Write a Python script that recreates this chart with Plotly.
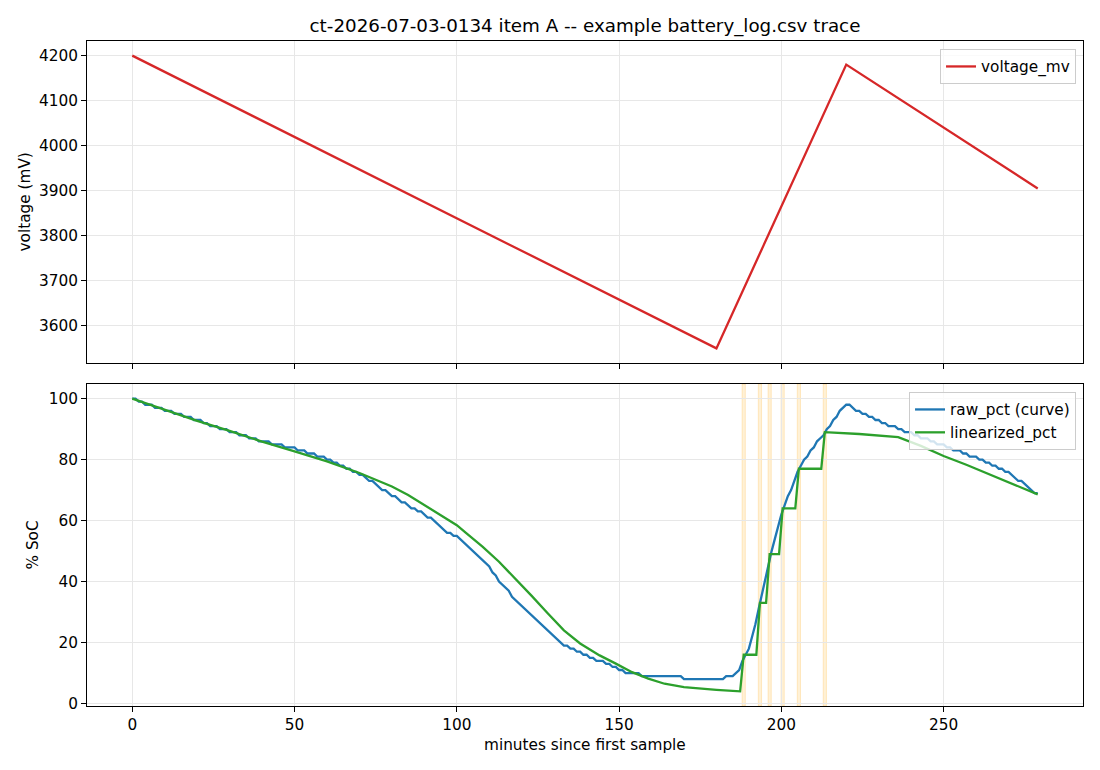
import plotly.graph_objects as go

# ---------------- data ----------------
volt_t = [0, 180, 220, 279]
volt_mv = [4200, 3550, 4180, 3905]

# raw_pct log samples (minute, percent); flat runs given by first and last sample
raw_pct_samples = [
    (0, 100), (1, 100), (2, 99), (3, 99), (4, 98), (6, 98), (7, 97), (9, 97),
    (10, 96), (12, 96), (13, 95), (15, 95), (16, 94), (18, 94), (19, 93), (21, 93),
    (22, 92), (23, 92), (24, 91), (26, 91), (27, 90), (29, 90), (30, 89), (32, 89),
    (33, 88), (35, 88), (36, 87), (38, 87), (39, 86), (42, 86), (43, 85), (46, 85),
    (47, 84), (50, 84), (51, 83), (53, 83), (54, 82), (56, 82), (57, 81), (59, 81),
    (60, 80), (61, 80), (62, 79), (63, 79), (64, 78), (65, 78), (66, 77), (67, 77),
    (68, 76), (69, 76), (70, 75), (71, 75), (72, 74), (73, 73), (74, 73), (75, 72),
    (76, 71), (77, 70), (78, 70), (79, 69), (80, 68), (81, 68), (82, 67), (83, 66),
    (84, 66), (85, 65), (86, 64), (87, 64), (88, 63), (89, 63), (90, 62), (91, 61),
    (92, 61), (93, 60), (94, 59), (95, 58), (96, 57), (97, 56), (98, 56), (99, 55),
    (100, 55), (101, 54), (102, 53), (103, 52), (104, 51), (105, 50), (106, 49),
    (107, 48), (108, 47), (109, 46), (110, 45), (111, 43), (112, 42), (113, 40),
    (114, 39), (115, 38), (116, 37), (117, 35), (118, 34), (119, 33), (120, 32),
    (121, 31), (122, 30), (123, 29), (124, 28), (125, 27), (126, 26), (127, 25),
    (128, 24), (129, 23), (130, 22), (131, 21), (132, 20), (133, 19), (134, 19),
    (135, 18), (136, 18), (137, 17), (138, 17), (139, 16), (140, 16), (141, 15),
    (142, 15), (143, 14), (145, 14), (146, 13), (147, 13), (148, 12), (149, 12),
    (150, 11), (151, 11), (152, 10), (156, 10), (157, 9), (169, 9), (170, 8),
    (182, 8), (183, 9), (185, 9), (186, 10), (187, 11), (188, 14), (189, 16),
    (190, 18), (191, 22), (192, 26), (193, 31), (194, 36), (195, 41), (196, 46),
    (197, 50), (198, 54), (199, 58), (200, 62), (201, 65), (202, 68), (203, 70),
    (204, 73), (205, 76), (206, 78), (207, 80), (208, 81), (209, 83), (210, 84),
    (211, 86), (212, 87), (213, 88), (214, 90), (215, 91), (216, 93), (217, 94),
    (218, 96), (219, 97), (220, 98), (221, 98), (222, 97), (223, 96), (224, 96),
    (225, 95), (226, 95), (227, 94), (228, 94), (229, 93), (230, 93), (231, 92),
    (232, 92), (233, 91), (235, 91), (236, 90), (237, 90), (238, 89), (240, 89),
    (241, 88), (242, 88), (243, 87), (245, 87), (246, 86), (247, 86), (248, 85),
    (250, 85), (251, 84), (252, 84), (253, 83), (255, 83), (256, 82), (257, 82),
    (258, 81), (260, 81), (261, 80), (262, 80), (263, 79), (264, 79), (265, 78),
    (266, 78), (267, 77), (268, 77), (269, 76), (270, 76), (271, 75), (272, 74),
    (273, 73), (274, 73), (275, 72), (276, 71), (277, 70), (278, 69), (279, 69),
]

lin_t = [0, 10, 20, 30, 40, 50, 60, 70, 80, 85,
         90, 95, 100, 103, 108, 113, 118, 123, 128, 133,
         138, 144, 149, 154, 159, 164, 170, 175, 180, 187.3,
         188.4, 192.3, 193.4, 195.3, 196.4, 199.3, 200.4, 204.3, 205.4, 212.3,
         213.4, 224, 236, 243, 250, 257, 264, 271, 279]
lin_v = [100, 96.3, 92.7, 89.4, 85.9, 82.7, 79.4, 75.6, 71.2, 68.4,
         65.1, 62, 58.5, 55.8, 51.4, 46.5, 41, 35.4, 29.6, 24,
         19.7, 15.8, 13.1, 10.3, 8.2, 6.5, 5.4, 4.9, 4.5, 4,
         16, 16, 33, 33, 49, 49, 64, 64, 77, 77,
         89, 88.4, 87.4, 84.5, 81.2, 78.3, 75.2, 72, 68.6]

event_t = [188.4, 193.4, 196.4, 200.4, 205.4, 213.4]

x_ticks = [0, 50, 100, 150, 200, 250]
v_ticks = [3600, 3700, 3800, 3900, 4000, 4100, 4200]
soc_ticks = [0, 20, 40, 60, 80, 100]

raw_t = [p[0] for p in raw_pct_samples]
raw_v = [p[1] for p in raw_pct_samples]

# ---------------- figure ----------------
FONT = "DejaVu Sans"
FS = 15.3
LW = 2.3
RED, BLUE, GREEN = "#d62728", "#1f77b4", "#2ca02c"
GRID = "#e7e7e7"

fig = go.Figure()
fig.add_trace(go.Scatter(x=volt_t, y=volt_mv, mode="lines", name="voltage_mv",
                         line=dict(color=RED, width=LW), xaxis="x", yaxis="y",
                         legend="legend", showlegend=True))
fig.add_trace(go.Scatter(x=raw_t, y=raw_v, mode="lines", name="raw_pct (curve)",
                         line=dict(color=BLUE, width=LW), xaxis="x2", yaxis="y2",
                         legend="legend2", showlegend=True))
fig.add_trace(go.Scatter(x=lin_t, y=lin_v, mode="lines", name="linearized_pct",
                         line=dict(color=GREEN, width=LW), xaxis="x2", yaxis="y2",
                         legend="legend2", showlegend=True))

shapes = []
for t in event_t:
    shapes.append(dict(type="rect", xref="x2", yref="y2 domain", x0=t - 0.5, x1=t + 0.5,
                       y0=0, y1=1, fillcolor="rgba(255,165,0,0.16)",
                       line=dict(color="rgba(255,165,0,0.2)", width=1), layer="below"))

axis_common = dict(showline=True, linecolor="black", linewidth=1, mirror=True,
                   ticks="outside", ticklen=5, tickwidth=1, tickcolor="black",
                   showgrid=True, gridcolor=GRID, gridwidth=1, zeroline=False,
                   tickfont=dict(family=FONT, size=FS, color="black"))

legend_style = dict(xanchor="right", yanchor="top", visible=True,
                    bgcolor="rgba(255,255,255,0.8)", bordercolor="#cccccc", borderwidth=1,
                    font=dict(family=FONT, size=FS, color="black"))

xr = [-13.95, 292.95]
fig.update_layout(
    width=1100, height=770,
    showlegend=True,
    margin=dict(l=87, r=17, t=41, b=64),
    paper_bgcolor="white", plot_bgcolor="white",
    font=dict(family=FONT, size=FS, color="black"),
    title=dict(text="ct-2026-07-03-0134 item A -- example battery_log.csv trace",
               x=0.5, xref="paper", xanchor="center",
               y=1 - 26 / 770, yref="container", yanchor="middle",
               font=dict(family=FONT, size=18.3, color="black")),
    xaxis=dict(domain=[0, 1], anchor="y", range=xr, tickvals=x_ticks,
               showticklabels=False, **axis_common),
    yaxis=dict(domain=[343 / 665, 1], anchor="x", range=[3517.5, 4232.5],
               tickvals=v_ticks, **axis_common),
    xaxis2=dict(domain=[0, 1], anchor="y2", range=xr, tickvals=x_ticks,
                **axis_common),
    yaxis2=dict(domain=[0, 322 / 665], anchor="x2", range=[-0.8, 104.8],
                tickvals=soc_ticks, **axis_common),
    legend=dict(x=0.993, y=(706 - 49) / 665, **legend_style),
    legend2=dict(x=0.993, y=(706 - 392) / 665, **legend_style),
    shapes=shapes,
    annotations=[
        dict(text="voltage (mV)", xref="paper", yref="paper",
             x=(24.5 - 87) / 996, y=(706 - 202) / 665, textangle=-90,
             showarrow=False, xanchor="center", yanchor="middle",
             font=dict(family=FONT, size=FS, color="black")),
        dict(text="% SoC", xref="paper", yref="paper",
             x=(32.5 - 87) / 996, y=(706 - 545) / 665, textangle=-90,
             showarrow=False, xanchor="center", yanchor="middle",
             font=dict(family=FONT, size=FS, color="black")),
        dict(text="minutes since first sample", xref="paper", yref="paper",
             x=0.5, y=(706 - 745) / 665, showarrow=False,
             xanchor="center", yanchor="middle",
             font=dict(family=FONT, size=FS, color="black")),
    ],
)

fig.write_html("out.html")
